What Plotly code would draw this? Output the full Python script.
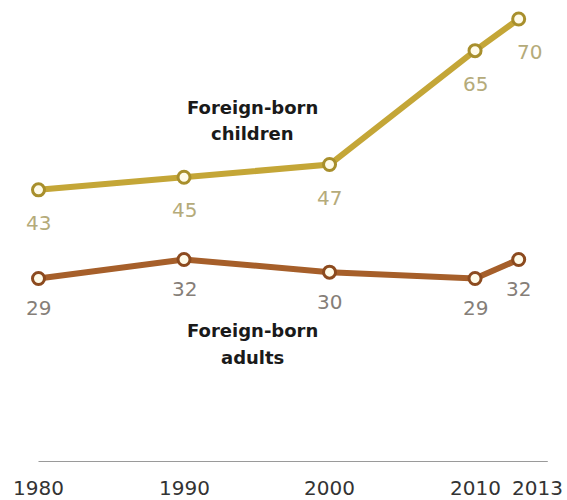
import plotly.graph_objects as go

years = [1980, 1990, 2000, 2010, 2013]
children = [43, 45, 47, 65, 70]
adults = [29, 32, 30, 29, 32]
year_labels = ["1980", "1990", "2000", "2010", "2013"]
series_names = [["Foreign-born", "children"], ["Foreign-born", "adults"]]

FONT = "DejaVu Sans"
child_line = "#c4a637"
child_edge = "#a88f2c"
child_text = "#b5ab7a"
adult_line = "#a65f2a"
adult_edge = "#8c4a1e"
adult_text = "#857e78"
fill = "#fffbe9"

fig = go.Figure()
for vals, lc, ec in [(children, child_line, child_edge), (adults, adult_line, adult_edge)]:
    fig.add_trace(go.Scatter(
        x=years, y=vals, mode="lines+markers",
        line=dict(color=lc, width=6),
        marker=dict(size=12, color=fill, line=dict(color=ec, width=3)),
        hoverinfo="skip", showlegend=False,
    ))

annotations = []
# data labels
child_xshift = [0, 0, 0, 0, 11]
for x, v, dx in zip(years, children, child_xshift):
    annotations.append(dict(x=x, y=v, xref="x", yref="y", text=str(v), showarrow=False,
                            xshift=dx, yshift=-33, yanchor="middle",
                            font=dict(family=FONT, size=20, color=child_text)))
for x, v in zip(years, adults):
    annotations.append(dict(x=x, y=v, xref="x", yref="y", text=str(v), showarrow=False,
                            yshift=-30, yanchor="middle",
                            font=dict(family=FONT, size=20, color=adult_text)))
# year labels (2013 nudged right to avoid 2010)
year_xshift = [0, 0, 0, 0, 19]
for x, t, dx in zip(years, year_labels, year_xshift):
    annotations.append(dict(x=x, y=0, xref="x", yref="y", text=t, showarrow=False,
                            xshift=dx, yshift=-26, yanchor="middle",
                            font=dict(family=FONT, size=20, color="#333333")))
# series labels (two lines each)
PLOT_H = 462
for lines, tops in zip(series_names, [(108, 134), (330, 357)]):
    for line, py in zip(lines, tops):
        annotations.append(dict(x=0.446, y=(PLOT_H - py) / PLOT_H, xref="paper", yref="paper",
                                text="<b>" + line + "</b>", showarrow=False,
                                xanchor="center", yanchor="middle",
                                font=dict(family=FONT, size=18, color="#1a1a1a")))

fig.update_layout(
    width=567, height=500,
    margin=dict(l=0, r=0, t=0, b=38),
    paper_bgcolor="white", plot_bgcolor="white",
    xaxis=dict(range=[1977.354, 2016.32], visible=False, fixedrange=True),
    yaxis=dict(range=[0, 73.0], visible=False, fixedrange=True),
    annotations=annotations,
    hovermode=False,
    shapes=[dict(type="line", xref="x", yref="y", x0=1980, x1=2015, y0=0, y1=0,
                 line=dict(color="#9a9a9a", width=2), layer="below")],
)

fig.write_html("out.html",
               config={"displayModeBar": False, "staticPlot": True},
               post_script="document.body.style.margin='0';document.documentElement.style.overflow='hidden';")
